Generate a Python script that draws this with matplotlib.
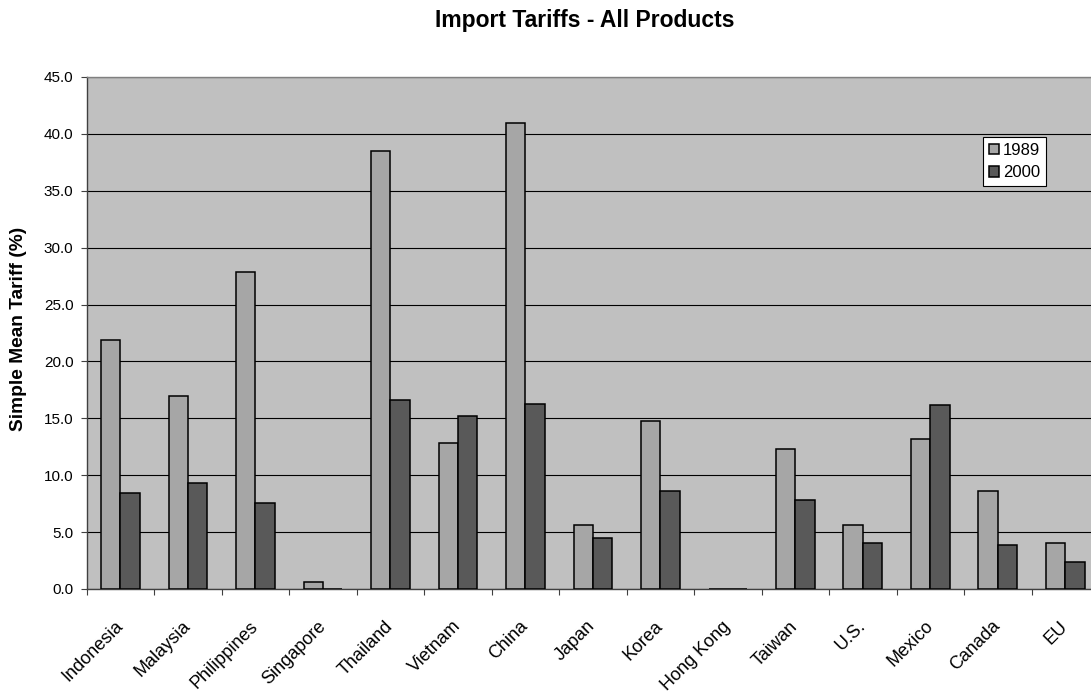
import numpy as np
import matplotlib
matplotlib.use('Agg')
import matplotlib.pyplot as plt
from matplotlib.ticker import FixedLocator, FormatStrFormatter

plt.rcParams['font.family'] = ['Liberation Sans', 'DejaVu Sans']

# ── data ──
countries = ['Indonesia', 'Malaysia', 'Philippines', 'Singapore', 'Thailand',
             'Vietnam', 'China', 'Japan', 'Korea', 'Hong Kong', 'Taiwan',
             'U.S.', 'Mexico', 'Canada', 'EU']
tariff_1989 = [21.9, 17.0, 27.9, 0.6, 38.5, 12.8, 41.0, 5.6, 14.8, 0.0,
               12.3, 5.6, 13.2, 8.6, 4.0]
tariff_2000 = [8.4, 9.3, 7.6, 0.0, 16.6, 15.2, 16.3, 4.5, 8.6, 0.0,
               7.8, 4.0, 16.2, 3.9, 2.4]
series_names = ['1989', '2000']
y_ticks = [0, 5, 10, 15, 20, 25, 30, 35, 40, 45]

W, H = 1091, 694
fig = plt.figure(figsize=(W / 100, H / 100), dpi=100, facecolor='white')

# plot area in pixels (right edge runs past the image, as in the reference)
left, right, top, bottom = 86.7, 1099, 77, 589
ax = fig.add_axes([left / W, 1 - bottom / H, (right - left) / W, (bottom - top) / H])
ax.set_facecolor('#C0C0C0')

x = np.arange(len(countries)) + 0.5
bw = 0.286
ax.bar(x - bw / 2, tariff_1989, bw, color='#A6A6A6', edgecolor='black',
       linewidth=1.1, label=series_names[0], zorder=3)
ax.bar(x + bw / 2, tariff_2000, bw, color='#595959', edgecolor='black',
       linewidth=1.1, label=series_names[1], zorder=3)

ax.set_xlim(0, len(countries))
ax.set_ylim(0, 45)

# gridlines
ax.yaxis.set_major_locator(FixedLocator(y_ticks))
ax.yaxis.set_major_formatter(FormatStrFormatter('%.1f'))
ax.grid(axis='y', color='black', linewidth=0.8, zorder=1)
ax.set_axisbelow(True)

# x: ticks at category boundaries, labels at centres
ax.set_xticks(np.arange(len(countries) + 1))
ax.set_xticklabels([])
ax.tick_params(axis='x', which='major', direction='out', length=4.5,
               width=0.8, color='#404040')
ax.set_xticks(x, minor=True)
ax.set_xticklabels(countries, minor=True, rotation=45, ha='right',
                   va='center', rotation_mode='anchor', fontsize=13)
ax.tick_params(axis='x', which='minor', length=0, pad=25)

ax.tick_params(axis='y', direction='out', length=4.5, width=0.8,
               color='#404040', labelsize=11, pad=5)

for s in ['left', 'bottom']:
    ax.spines[s].set_color('#404040')
    ax.spines[s].set_linewidth(1.0)
ax.spines['top'].set_color('#808080')
ax.spines['top'].set_linewidth(1.0)
ax.spines['right'].set_visible(False)

leg = ax.legend(loc='upper left', bbox_to_anchor=(983 / W, 1 - 137 / H),
                bbox_transform=fig.transFigure, fontsize=12, frameon=True,
                fancybox=False, framealpha=1, edgecolor='black',
                borderaxespad=0, borderpad=0.35, handlelength=0.6,
                handleheight=0.6, handletextpad=0.25, labelspacing=0.45)
leg.get_frame().set_linewidth(0.8)

fig.text(585 / W, 1 - 20 / H, 'Import Tariffs - All Products', ha='center',
         va='center', fontsize=16.5, fontweight='bold')
fig.text(18.5 / W, 1 - 329 / H, 'Simple Mean Tariff (%)', ha='center',
         va='center', rotation=90, fontsize=13.8, fontweight='bold')

fig.savefig('out.png', dpi=100, facecolor='white')
